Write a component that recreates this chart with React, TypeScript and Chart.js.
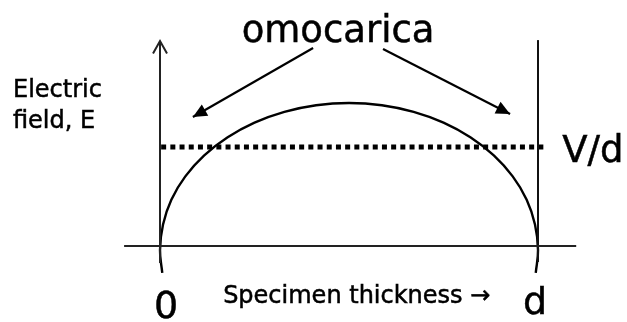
import React, { useEffect, useRef } from 'react';
import { Chart, registerables } from 'chart.js';

Chart.register(...registerables);

// ---- data (thickness in units of d, field in units of V/d) ----
const thicknessTicks = [0, 1];
const thicknessTickLabels = ['0', 'd'];
const curveThickness = [0.994, 1.0, 0.992, 0.97, 0.933, 0.883, 0.821, 0.75, 0.671, 0.587, 0.5, 0.413, 0.329, 0.25, 0.179, 0.117, 0.067, 0.03, 0.008, 0.0, 0.006];
const curveField = [-0.272, -0.04, 0.218, 0.468, 0.703, 0.915, 1.098, 1.246, 1.355, 1.422, 1.445, 1.422, 1.355, 1.246, 1.098, 0.915, 0.703, 0.468, 0.218, -0.04, -0.272];
const uniformField = 1;
const uniformFieldLabel = 'V/d';
const calloutLabel = 'omocarica';
const yAxisTitle = ['Electric', 'field, E'];
const xAxisTitle = 'Specimen thickness \u2192';
// callout arrows: [fromThickness, fromField, toThickness, toField]
const calloutArrowLeft = [0.405, 2.0, 0.087, 1.303];
const calloutArrowRight = [0.59, 1.99, 0.926, 1.333];

// ---- layout ----
const X_MIN = -0.4233;
const X_MAX = 1.2354;
const Y_MIN = -0.768;
const Y_MAX = 2.485;
const FONT = "'DejaVu Sans', sans-serif";
const INK = '#000';

const arrowPlugin = {
  id: 'arrowHeads',
  afterDatasetsDraw(chart: any) {
    const ctx = chart.ctx;
    chart.data.datasets.forEach((ds: any, i: number) => {
      if (!ds.arrowHead) return;
      const pts = chart.getDatasetMeta(i).data;
      const a = pts[pts.length - 2];
      const b = pts[pts.length - 1];
      const ang = Math.atan2(b.y - a.y, b.x - a.x);
      const len = ds.arrowHead === 'open' ? 12.5 : 14;
      const hw = ds.arrowHead === 'open' ? 7 : 6.5;
      const lx = b.x - len * Math.cos(ang);
      const ly = b.y - len * Math.sin(ang);
      const px = -Math.sin(ang) * hw;
      const py = Math.cos(ang) * hw;
      ctx.save();
      ctx.strokeStyle = ds.borderColor;
      ctx.fillStyle = ds.borderColor;
      ctx.lineWidth = ds.borderWidth;
      ctx.beginPath();
      ctx.moveTo(lx + px, ly + py);
      ctx.lineTo(b.x, b.y);
      ctx.lineTo(lx - px, ly - py);
      if (ds.arrowHead === 'open') {
        ctx.stroke();
      } else {
        ctx.closePath();
        ctx.fill();
      }
      ctx.restore();
    });
  },
};

const textPlugin = {
  id: 'diagramText',
  beforeDraw(chart: any) {
    const ctx = chart.ctx;
    ctx.save();
    ctx.fillStyle = '#fff';
    ctx.fillRect(0, 0, chart.width, chart.height);
    ctx.restore();
  },
  afterDraw(chart: any) {
    const ctx = chart.ctx;
    const xs = chart.scales.x;
    const ys = chart.scales.y;
    const X = (v: number) => xs.getPixelForValue(v);
    const Y = (v: number) => ys.getPixelForValue(v);
    ctx.save();
    ctx.fillStyle = INK;
    ctx.strokeStyle = INK;
    ctx.lineWidth = 0.5;
    ctx.textBaseline = 'alphabetic';
    const put = (s: string, x: number, y: number) => {
      ctx.fillText(s, x, y);
      ctx.strokeText(s, x, y);
    };

    ctx.font = `37px ${FONT}`;
    ctx.textAlign = 'center';
    put(calloutLabel, X(0.471), Y(2.06));

    ctx.font = `24px ${FONT}`;
    ctx.textAlign = 'left';
    put(yAxisTitle[0], X(-0.389), Y(1.505));
    put(yAxisTitle[1], X(-0.389), Y(1.192));

    ctx.font = `37px ${FONT}`;
    put(uniformFieldLabel, X(1.064), Y(uniformField) + 15);

    ctx.font = `24px ${FONT}`;
    put(xAxisTitle, X(0.167), Y(-0.576));

    ctx.font = `38px ${FONT}`;
    ctx.textAlign = 'center';
    const tickOffsets = [[6, 72], [-3, 68]];
    thicknessTicks.forEach((t, i) => {
      put(thicknessTickLabels[i], X(t) + tickOffsets[i][0], Y(0) + tickOffsets[i][1]);
    });
    ctx.restore();
  },
};

function seg(x0: number, y0: number, x1: number, y1: number) {
  return [{ x: x0, y: y0 }, { x: x1, y: y1 }];
}

export default function App() {
  const ref = useRef<HTMLCanvasElement | null>(null);
  useEffect(() => {
    if (!ref.current) return;
    const curve = curveThickness.map((x, i) => ({ x, y: curveField[i] }));
    const chart = new Chart(ref.current, {
      type: 'scatter',
      data: {
        datasets: [
          {
            label: 'axisX',
            data: seg(-0.095, 0, 1.101, 0),
            showLine: true,
            borderColor: '#222',
            borderWidth: 2,
          },
          {
            label: 'axisY',
            data: seg(0, -0.172, 0, 2.07),
            showLine: true,
            borderColor: '#222',
            borderWidth: 2,
            arrowHead: 'open',
          } as any,
          {
            label: 'boundary',
            data: seg(1, -0.162, 1, 2.08),
            showLine: true,
            borderColor: '#111',
            borderWidth: 2,
          },
          {
            label: 'E(x)',
            data: curve,
            showLine: true,
            borderColor: INK,
            borderWidth: 2.4,
            tension: 0.4,
          },
          {
            label: 'V/d',
            data: seg(0.003, uniformField, 1.019, uniformField),
            showLine: true,
            borderColor: INK,
            borderWidth: 4.8,
            borderDash: [5, 4.2],
          },
          {
            label: 'calloutL',
            data: seg(calloutArrowLeft[0], calloutArrowLeft[1], calloutArrowLeft[2], calloutArrowLeft[3]),
            showLine: true,
            borderColor: INK,
            borderWidth: 2.2,
            arrowHead: 'filled',
          } as any,
          {
            label: 'calloutR',
            data: seg(calloutArrowRight[0], calloutArrowRight[1], calloutArrowRight[2], calloutArrowRight[3]),
            showLine: true,
            borderColor: INK,
            borderWidth: 2.2,
            arrowHead: 'filled',
          } as any,
        ],
      },
      options: {
        responsive: false,
        maintainAspectRatio: false,
        animation: false,
        events: [],
        layout: { padding: 0 },
        elements: { point: { radius: 0, hoverRadius: 0 } },
        plugins: { legend: { display: false }, tooltip: { enabled: false } },
        scales: {
          x: { type: 'linear', min: X_MIN, max: X_MAX, display: false },
          y: { type: 'linear', min: Y_MIN, max: Y_MAX, display: false },
        },
      },
      plugins: [textPlugin, arrowPlugin],
    });
    return () => chart.destroy();
  }, []);
  return (
    <div style={{ position: 'fixed', left: 0, top: 0, width: 627, height: 322, background: '#fff' }}>
      <canvas ref={ref} width={627} height={322} style={{ display: 'block', width: 627, height: 322 }} />
    </div>
  );
}
